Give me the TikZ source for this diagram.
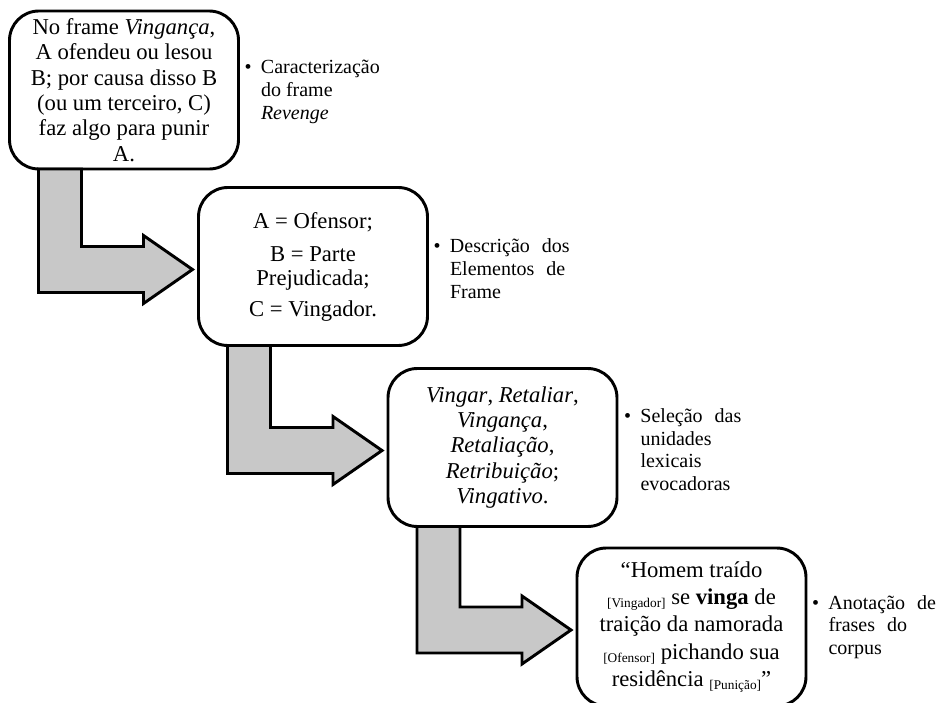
\documentclass[tikz,border=0pt]{standalone}
\usepackage{fontspec}
\setmainfont{Liberation Serif}
\usetikzlibrary{calc}

\tikzset{every picture/.style={line width=0.75pt}}
\tikzset{
  stagebox/.style={draw, line width=2.2pt, rounded corners=22pt, fill=white, outer sep=0pt,
    inner sep=0pt, minimum width=171.75pt, minimum height=118.5pt, text width=160pt,
    align=flush center, font=\fontsize{17}{19}\selectfont},
  notetext/.style={anchor=west, inner sep=0pt, text width=95pt, align=flush left,
    font=\fontsize{15}{17}\selectfont},
  bentarrow/.style={draw, line width=2.2pt, line join=miter,
    fill={rgb, 255:red, 200; green, 200; blue, 200}},
}
\newcommand\fetag[1]{\raisebox{-2.5pt}{\fontsize{10}{10}\selectfont[#1]}}
\newcommand\notebullet{\llap{\textbullet\hspace{7pt}}}
\newcommand\gap{\hspace{0.6em}}

\begin{document}
\begin{tikzpicture}[x=0.75pt,y=0.75pt,yscale=-1,xscale=1]
\useasboundingbox (0,0) rectangle (936,703);
\clip (0,0) rectangle (936,703);

% boxes
\node[stagebox] (b1) at (124,90) {No frame \textit{Vingança},\\ A ofendeu ou lesou\\ B; por causa disso B\\ (ou um terceiro, C)\\ faz algo para punir\\ A.};
\node[stagebox] (b2) at (313,266.5) {A = Ofensor;\\[6pt] B = Parte\\[-1pt] Prejudicada;\\[4pt] C = Vingador.};
\node[stagebox] (b3) at (502.5,447.5) {\textit{Vingar}, \textit{Retaliar},\\ \textit{Vingança},\\ \textit{Retaliação},\\ \textit{Retribuição};\\ \textit{Vingativo}.};
\node[stagebox, font=\fontsize{17}{20.5}\selectfont] (b4) at (691.5,627) {“Homem traído\\ \fetag{Vingador} se \textbf{vinga} de\\ traição da namorada\\ \fetag{Ofensor} pichando sua\\ residência \fetag{Punição}”};

% side notes
\node[notetext] (n1) at ($(b1.east)+(22,2)$) {\notebullet Caracterização\\ do frame\\ \textit{Revenge}};
\node[notetext] (n2) at ($(b2.east)+(22,2)$) {\notebullet Descrição\gap dos\\ Elementos\gap de\\ Frame};
\node[notetext] (n3) at ($(b3.east)+(23,2)$) {\notebullet Seleção\gap das\\ unidades\\ lexicais\\ evocadoras};
\node[notetext] (n4) at ($(b4.east)+(22,0)$) {\notebullet Anotação\gap de\\ frases\gap do\\ corpus};

% bent arrows
\foreach \from/\to in {b1/b2, b2/b3, b3/b4}{
  \coordinate (tip) at ($(\to.west)+(-6,3)$);
  \draw[bentarrow] ($(\from.south west)+(29,0)$) |- ($(tip)+(-49,23)$) -- ++(0,11) -- (tip)
    -- ++(-49,-34) -- ++(0,11) -| ($(\from.south west)+(72,0)$) -- cycle;
}

\end{tikzpicture}
\end{document}
